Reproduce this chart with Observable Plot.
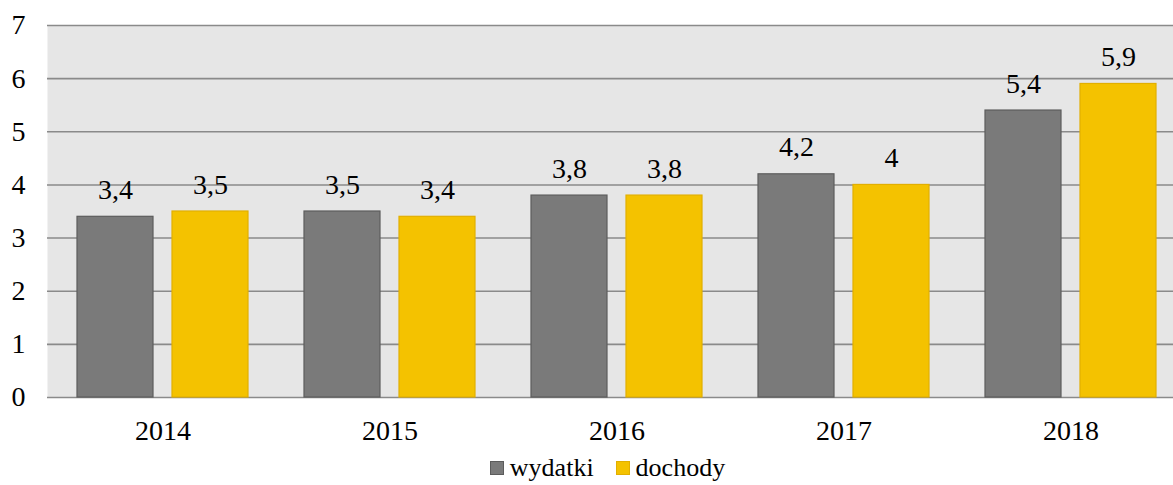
<!DOCTYPE html>
<html>
<head>
<meta charset="utf-8">
<script src="https://cdn.jsdelivr.net/npm/d3@7"></script>
<script src="https://cdn.jsdelivr.net/npm/@observablehq/plot@0.6"></script>
<style>
  html, body { margin: 0; padding: 0; background: white; overflow: hidden; }
  #legend { display: flex; justify-content: center; align-items: center; padding-left: 42px;
    height: 35px; font-family: "Liberation Serif", "Times New Roman", serif; font-size: 26px; color: #000; }
  .sw { width: 14px; height: 14px; display: inline-block; margin-right: 6px; box-sizing: border-box; }
  .item { display: flex; align-items: center; margin: 0 11px; }
</style>
</head>
<body>
<div id="chart"></div>
<div id="legend"></div>
<script>
const years = ["2014", "2015", "2016", "2017", "2018"];
const seriesNames = ["wydatki", "dochody"];
const wydatki = [3.4, 3.5, 3.8, 4.2, 5.4];
const dochody = [3.5, 3.4, 3.8, 4.0, 5.9];
const yTicks = [0, 1, 2, 3, 4, 5, 6, 7];
const colors = {wydatki: "#7a7a7a", dochody: "#f4c200"};
const strokes = {wydatki: "#5c5c5c", dochody: "#e2af00"};

const rowsW = years.map((y, i) => ({year: y, value: wydatki[i]}));
const rowsD = years.map((y, i) => ({year: y, value: dochody[i]}));
const fmt = v => String(v).replace(".", ",");

const chart = Plot.plot({
  width: 1173,
  height: 450,
  marginLeft: 47,
  marginRight: 0,
  marginTop: 25,
  marginBottom: 53,
  style: {fontFamily: "'Liberation Serif', 'Times New Roman', serif", fontSize: "28px", color: "#000", background: "white"},
  x: {domain: years, range: [47, 1186], paddingInner: 0.246, paddingOuter: 0.123, label: null},
  y: {domain: [0, 7], ticks: yTicks, label: null},
  marks: [
    Plot.frame({fill: "#e6e6e6", stroke: null}),
    Plot.ruleY(yTicks, {stroke: "#8a8a8a", strokeWidth: 1.6, strokeOpacity: 1}),
    Plot.barY(rowsW, {x: "year", y: "value", fill: colors.wydatki, stroke: strokes.wydatki, strokeWidth: 1.2, insetRight: 95}),
    Plot.barY(rowsD, {x: "year", y: "value", fill: colors.dochody, stroke: strokes.dochody, strokeWidth: 1.2, insetLeft: 95}),
    Plot.text(rowsW, {x: "year", y: "value", text: d => fmt(d.value), dx: -47.5, dy: -18, lineAnchor: "bottom", fill: "#000"}),
    Plot.text(rowsD, {x: "year", y: "value", text: d => fmt(d.value), dx: 47.5, dy: -18, lineAnchor: "bottom", fill: "#000"}),
    Plot.axisY({ticks: yTicks, tickSize: 0, tickPadding: 22, tickFormat: d => String(d), label: null}),
    Plot.axisX({tickSize: 0, tickPadding: 23, label: null})
  ]
});
document.getElementById("chart").appendChild(chart);

const legend = document.getElementById("legend");
seriesNames.forEach(name => {
  const item = document.createElement("div");
  item.className = "item";
  const sw = document.createElement("span");
  sw.className = "sw";
  sw.style.background = colors[name];
  sw.style.border = "1px solid " + strokes[name];
  item.appendChild(sw);
  const t = document.createElement("span");
  t.textContent = name;
  item.appendChild(t);
  legend.appendChild(item);
});
</script>
</body>
</html>
